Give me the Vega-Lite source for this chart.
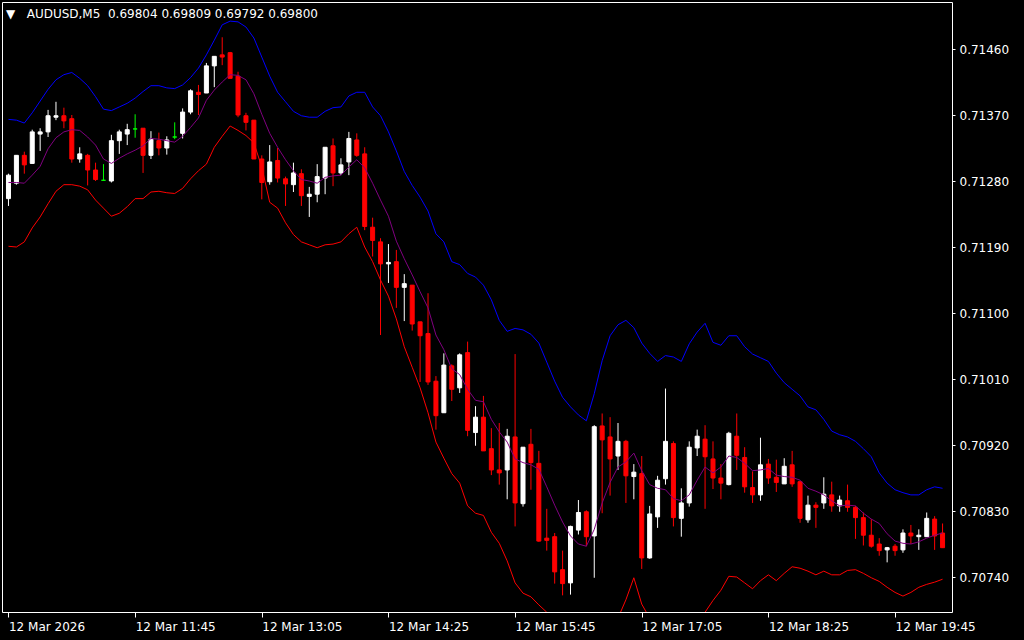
{
"$schema": "https://vega.github.io/schema/vega-lite/v6.json",
"width": 950,
"height": 610,
"autosize": {"type": "none"},
"padding": {"left": 2, "top": 2, "right": 72, "bottom": 28},
"background": "#000000",
"view": {"stroke": "#ffffff", "strokeWidth": 1, "fill": "#000000"},
"title": {"text": "▼\u00a0\u00a0\u00a0AUDUSD,M5\u00a0\u00a00.69804 0.69809 0.69792 0.69800", "anchor": "start", "frame": "group", "orient": "top", "offset": -19, "baseline": "top", "dx": 4, "color": "#ffffff", "font": "DejaVu Sans", "fontSize": 12, "fontWeight": "normal"},
"config": {"axis": {"labelColor": "#ffffff", "tickColor": "#ffffff", "labelFont": "DejaVu Sans", "labelFontSize": 12, "domain": false, "grid": false, "title": null}},
"data": {"values": [
{"t":"2026-03-12T10:25","o":0.71256,"h":0.71290,"l":0.71246,"c":0.71288,"u":0.71364,"m":0.71278,"d":0.71191},
{"t":"2026-03-12T10:30","o":0.71277,"h":0.71315,"l":0.71275,"c":0.71315,"u":0.71363,"m":0.71278,"d":0.71190},
{"t":"2026-03-12T10:35","o":0.71315,"h":0.71320,"l":0.71290,"c":0.71302,"u":0.71359,"m":0.71277,"d":0.71197},
{"t":"2026-03-12T10:40","o":0.71304,"h":0.71350,"l":0.71304,"c":0.71347,"u":0.71373,"m":0.71288,"d":0.71216},
{"t":"2026-03-12T10:45","o":0.71344,"h":0.71352,"l":0.71321,"c":0.71347,"u":0.71389,"m":0.71300,"d":0.71231},
{"t":"2026-03-12T10:50","o":0.71347,"h":0.71377,"l":0.71340,"c":0.71369,"u":0.71405,"m":0.71324,"d":0.71249},
{"t":"2026-03-12T10:55","o":0.71367,"h":0.71388,"l":0.71363,"c":0.71369,"u":0.71418,"m":0.71339,"d":0.71266},
{"t":"2026-03-12T11:00","o":0.71369,"h":0.71380,"l":0.71352,"c":0.71362,"u":0.71425,"m":0.71347,"d":0.71275},
{"t":"2026-03-12T11:05","o":0.71365,"h":0.71370,"l":0.71305,"c":0.71310,"u":0.71428,"m":0.71350,"d":0.71275},
{"t":"2026-03-12T11:10","o":0.71310,"h":0.71326,"l":0.71305,"c":0.71317,"u":0.71420,"m":0.71349,"d":0.71273},
{"t":"2026-03-12T11:15","o":0.71315,"h":0.71317,"l":0.71274,"c":0.71295,"u":0.71410,"m":0.71340,"d":0.71268},
{"t":"2026-03-12T11:20","o":0.71295,"h":0.71305,"l":0.71280,"c":0.71282,"u":0.71395,"m":0.71329,"d":0.71254},
{"t":"2026-03-12T11:25","o":0.71281,"h":0.71303,"l":0.71281,"c":0.71281,"u":0.71378,"m":0.71310,"d":0.71243},
{"t":"2026-03-12T11:30","o":0.71280,"h":0.71343,"l":0.71278,"c":0.71335,"u":0.71376,"m":0.71304,"d":0.71232},
{"t":"2026-03-12T11:35","o":0.71335,"h":0.71350,"l":0.71317,"c":0.71347,"u":0.71381,"m":0.71311,"d":0.71236},
{"t":"2026-03-12T11:40","o":0.71344,"h":0.71358,"l":0.71329,"c":0.71350,"u":0.71386,"m":0.71317,"d":0.71245},
{"t":"2026-03-12T11:45","o":0.71351,"h":0.71371,"l":0.71339,"c":0.71351,"u":0.71393,"m":0.71322,"d":0.71256},
{"t":"2026-03-12T11:50","o":0.71352,"h":0.71352,"l":0.71291,"c":0.71315,"u":0.71402,"m":0.71328,"d":0.71256},
{"t":"2026-03-12T11:55","o":0.71315,"h":0.71348,"l":0.71310,"c":0.71337,"u":0.71410,"m":0.71338,"d":0.71265},
{"t":"2026-03-12T12:00","o":0.71335,"h":0.71346,"l":0.71315,"c":0.71325,"u":0.71410,"m":0.71337,"d":0.71266},
{"t":"2026-03-12T12:05","o":0.71325,"h":0.71341,"l":0.71316,"c":0.71336,"u":0.71407,"m":0.71335,"d":0.71264},
{"t":"2026-03-12T12:10","o":0.71340,"h":0.71360,"l":0.71337,"c":0.71340,"u":0.71406,"m":0.71333,"d":0.71263},
{"t":"2026-03-12T12:15","o":0.71345,"h":0.71379,"l":0.71338,"c":0.71374,"u":0.71411,"m":0.71341,"d":0.71270},
{"t":"2026-03-12T12:20","o":0.71374,"h":0.71405,"l":0.71371,"c":0.71403,"u":0.71421,"m":0.71353,"d":0.71283},
{"t":"2026-03-12T12:25","o":0.71401,"h":0.71411,"l":0.71370,"c":0.71398,"u":0.71434,"m":0.71366,"d":0.71294},
{"t":"2026-03-12T12:30","o":0.71400,"h":0.71441,"l":0.71400,"c":0.71437,"u":0.71452,"m":0.71390,"d":0.71303},
{"t":"2026-03-12T12:35","o":0.71437,"h":0.71450,"l":0.71408,"c":0.71450,"u":0.71472,"m":0.71404,"d":0.71326},
{"t":"2026-03-12T12:40","o":0.71452,"h":0.71476,"l":0.71438,"c":0.71449,"u":0.71493,"m":0.71415,"d":0.71341},
{"t":"2026-03-12T12:45","o":0.71455,"h":0.71456,"l":0.71420,"c":0.71420,"u":0.71498,"m":0.71425,"d":0.71355},
{"t":"2026-03-12T12:50","o":0.71423,"h":0.71429,"l":0.71367,"c":0.71370,"u":0.71497,"m":0.71424,"d":0.71349},
{"t":"2026-03-12T12:55","o":0.71369,"h":0.71373,"l":0.71349,"c":0.71360,"u":0.71490,"m":0.71418,"d":0.71342},
{"t":"2026-03-12T13:00","o":0.71363,"h":0.71363,"l":0.71310,"c":0.71310,"u":0.71475,"m":0.71399,"d":0.71332},
{"t":"2026-03-12T13:05","o":0.71310,"h":0.71315,"l":0.71255,"c":0.71278,"u":0.71449,"m":0.71371,"d":0.71299},
{"t":"2026-03-12T13:10","o":0.71279,"h":0.71329,"l":0.71275,"c":0.71306,"u":0.71423,"m":0.71345,"d":0.71251},
{"t":"2026-03-12T13:15","o":0.71308,"h":0.71325,"l":0.71278,"c":0.71284,"u":0.71401,"m":0.71326,"d":0.71243},
{"t":"2026-03-12T13:20","o":0.71283,"h":0.71286,"l":0.71246,"c":0.71276,"u":0.71388,"m":0.71309,"d":0.71223},
{"t":"2026-03-12T13:25","o":0.71275,"h":0.71305,"l":0.71265,"c":0.71291,"u":0.71375,"m":0.71294,"d":0.71207},
{"t":"2026-03-12T13:30","o":0.71290,"h":0.71296,"l":0.71246,"c":0.71260,"u":0.71369,"m":0.71282,"d":0.71197},
{"t":"2026-03-12T13:35","o":0.71259,"h":0.71272,"l":0.71231,"c":0.71262,"u":0.71367,"m":0.71280,"d":0.71193},
{"t":"2026-03-12T13:40","o":0.71262,"h":0.71303,"l":0.71251,"c":0.71286,"u":0.71367,"m":0.71277,"d":0.71189},
{"t":"2026-03-12T13:45","o":0.71284,"h":0.71326,"l":0.71262,"c":0.71326,"u":0.71375,"m":0.71285,"d":0.71193},
{"t":"2026-03-12T13:50","o":0.71328,"h":0.71338,"l":0.71273,"c":0.71291,"u":0.71380,"m":0.71287,"d":0.71194},
{"t":"2026-03-12T13:55","o":0.71291,"h":0.71311,"l":0.71288,"c":0.71302,"u":0.71381,"m":0.71288,"d":0.71197},
{"t":"2026-03-12T14:00","o":0.71306,"h":0.71347,"l":0.71288,"c":0.71338,"u":0.71396,"m":0.71299,"d":0.71208},
{"t":"2026-03-12T14:05","o":0.71336,"h":0.71345,"l":0.71313,"c":0.71315,"u":0.71401,"m":0.71309,"d":0.71217},
{"t":"2026-03-12T14:10","o":0.71317,"h":0.71326,"l":0.71213,"c":0.71218,"u":0.71401,"m":0.71298,"d":0.71190},
{"t":"2026-03-12T14:15","o":0.71217,"h":0.71230,"l":0.71177,"c":0.71199,"u":0.71381,"m":0.71277,"d":0.71170},
{"t":"2026-03-12T14:20","o":0.71197,"h":0.71202,"l":0.71070,"c":0.71167,"u":0.71369,"m":0.71254,"d":0.71145},
{"t":"2026-03-12T14:25","o":0.71167,"h":0.71194,"l":0.71141,"c":0.71169,"u":0.71347,"m":0.71232,"d":0.71123},
{"t":"2026-03-12T14:30","o":0.71170,"h":0.71186,"l":0.71107,"c":0.71135,"u":0.71321,"m":0.71198,"d":0.71092},
{"t":"2026-03-12T14:35","o":0.71135,"h":0.71153,"l":0.71089,"c":0.71140,"u":0.71293,"m":0.71174,"d":0.71054},
{"t":"2026-03-12T14:40","o":0.71138,"h":0.71138,"l":0.71076,"c":0.71085,"u":0.71274,"m":0.71152,"d":0.71026},
{"t":"2026-03-12T14:45","o":0.71088,"h":0.71088,"l":0.71006,"c":0.71069,"u":0.71258,"m":0.71129,"d":0.70998},
{"t":"2026-03-12T14:50","o":0.71072,"h":0.71127,"l":0.71002,"c":0.71006,"u":0.71239,"m":0.71107,"d":0.70964},
{"t":"2026-03-12T14:55","o":0.71007,"h":0.71014,"l":0.70941,"c":0.70960,"u":0.71208,"m":0.71070,"d":0.70924},
{"t":"2026-03-12T15:00","o":0.70964,"h":0.71045,"l":0.70964,"c":0.71029,"u":0.71197,"m":0.71050,"d":0.70902},
{"t":"2026-03-12T15:05","o":0.71028,"h":0.71030,"l":0.70980,"c":0.70996,"u":0.71170,"m":0.71024,"d":0.70881},
{"t":"2026-03-12T15:10","o":0.70998,"h":0.71045,"l":0.70991,"c":0.71043,"u":0.71166,"m":0.71016,"d":0.70868},
{"t":"2026-03-12T15:15","o":0.71046,"h":0.71061,"l":0.70932,"c":0.70940,"u":0.71154,"m":0.70996,"d":0.70837},
{"t":"2026-03-12T15:20","o":0.70937,"h":0.70973,"l":0.70919,"c":0.70958,"u":0.71149,"m":0.70981,"d":0.70827},
{"t":"2026-03-12T15:25","o":0.70958,"h":0.70987,"l":0.70912,"c":0.70912,"u":0.71138,"m":0.70979,"d":0.70824},
{"t":"2026-03-12T15:30","o":0.70915,"h":0.70943,"l":0.70879,"c":0.70886,"u":0.71118,"m":0.70955,"d":0.70801},
{"t":"2026-03-12T15:35","o":0.70886,"h":0.70950,"l":0.70866,"c":0.70882,"u":0.71090,"m":0.70938,"d":0.70786},
{"t":"2026-03-12T15:40","o":0.70886,"h":0.70942,"l":0.70846,"c":0.70932,"u":0.71075,"m":0.70924,"d":0.70762},
{"t":"2026-03-12T15:45","o":0.70931,"h":0.71044,"l":0.70809,"c":0.70841,"u":0.71079,"m":0.70901,"d":0.70732},
{"t":"2026-03-12T15:50","o":0.70840,"h":0.70917,"l":0.70836,"c":0.70917,"u":0.71077,"m":0.70896,"d":0.70718},
{"t":"2026-03-12T15:55","o":0.70921,"h":0.70942,"l":0.70859,"c":0.70896,"u":0.71071,"m":0.70893,"d":0.70713},
{"t":"2026-03-12T16:00","o":0.70895,"h":0.70912,"l":0.70788,"c":0.70789,"u":0.71059,"m":0.70887,"d":0.70702},
{"t":"2026-03-12T16:05","o":0.70793,"h":0.70833,"l":0.70776,"c":0.70790,"u":0.71033,"m":0.70863,"d":0.70692},
{"t":"2026-03-12T16:10","o":0.70795,"h":0.70800,"l":0.70731,"c":0.70747,"u":0.71007,"m":0.70838,"d":0.70669},
{"t":"2026-03-12T16:15","o":0.70750,"h":0.70776,"l":0.70715,"c":0.70731,"u":0.70985,"m":0.70815,"d":0.70645},
{"t":"2026-03-12T16:20","o":0.70732,"h":0.70810,"l":0.70716,"c":0.70809,"u":0.70972,"m":0.70796,"d":0.70620},
{"t":"2026-03-12T16:25","o":0.70804,"h":0.70845,"l":0.70798,"c":0.70828,"u":0.70961,"m":0.70785,"d":0.70609},
{"t":"2026-03-12T16:30","o":0.70829,"h":0.70831,"l":0.70782,"c":0.70795,"u":0.70953,"m":0.70782,"d":0.70612},
{"t":"2026-03-12T16:35","o":0.70796,"h":0.70947,"l":0.70739,"c":0.70945,"u":0.70990,"m":0.70805,"d":0.70621},
{"t":"2026-03-12T16:40","o":0.70946,"h":0.70963,"l":0.70827,"c":0.70927,"u":0.71035,"m":0.70841,"d":0.70647},
{"t":"2026-03-12T16:45","o":0.70931,"h":0.70958,"l":0.70851,"c":0.70901,"u":0.71069,"m":0.70869,"d":0.70669},
{"t":"2026-03-12T16:50","o":0.70905,"h":0.70950,"l":0.70886,"c":0.70925,"u":0.71084,"m":0.70890,"d":0.70684},
{"t":"2026-03-12T16:55","o":0.70925,"h":0.70927,"l":0.70841,"c":0.70878,"u":0.71090,"m":0.70897,"d":0.70709},
{"t":"2026-03-12T17:00","o":0.70877,"h":0.70894,"l":0.70846,"c":0.70883,"u":0.71080,"m":0.70909,"d":0.70739},
{"t":"2026-03-12T17:05","o":0.70881,"h":0.70905,"l":0.70751,"c":0.70766,"u":0.71059,"m":0.70885,"d":0.70703},
{"t":"2026-03-12T17:10","o":0.70766,"h":0.70837,"l":0.70765,"c":0.70826,"u":0.71045,"m":0.70866,"d":0.70684},
{"t":"2026-03-12T17:15","o":0.70822,"h":0.70878,"l":0.70807,"c":0.70872,"u":0.71034,"m":0.70861,"d":0.70688},
{"t":"2026-03-12T17:20","o":0.70874,"h":0.70997,"l":0.70866,"c":0.70925,"u":0.71042,"m":0.70859,"d":0.70675},
{"t":"2026-03-12T17:25","o":0.70922,"h":0.70925,"l":0.70809,"c":0.70821,"u":0.71040,"m":0.70847,"d":0.70654},
{"t":"2026-03-12T17:30","o":0.70820,"h":0.70861,"l":0.70795,"c":0.70841,"u":0.71034,"m":0.70844,"d":0.70653},
{"t":"2026-03-12T17:35","o":0.70841,"h":0.70925,"l":0.70836,"c":0.70917,"u":0.71058,"m":0.70852,"d":0.70646},
{"t":"2026-03-12T17:40","o":0.70916,"h":0.70941,"l":0.70905,"c":0.70932,"u":0.71074,"m":0.70872,"d":0.70670},
{"t":"2026-03-12T17:45","o":0.70928,"h":0.70947,"l":0.70833,"c":0.70904,"u":0.71086,"m":0.70890,"d":0.70692},
{"t":"2026-03-12T17:50","o":0.70901,"h":0.70925,"l":0.70860,"c":0.70875,"u":0.71060,"m":0.70882,"d":0.70708},
{"t":"2026-03-12T17:55","o":0.70875,"h":0.70894,"l":0.70846,"c":0.70868,"u":0.71056,"m":0.70890,"d":0.70722},
{"t":"2026-03-12T18:00","o":0.70866,"h":0.70938,"l":0.70865,"c":0.70936,"u":0.71069,"m":0.70905,"d":0.70741},
{"t":"2026-03-12T18:05","o":0.70932,"h":0.70963,"l":0.70886,"c":0.70906,"u":0.71069,"m":0.70903,"d":0.70740},
{"t":"2026-03-12T18:10","o":0.70903,"h":0.70917,"l":0.70855,"c":0.70863,"u":0.71054,"m":0.70895,"d":0.70732},
{"t":"2026-03-12T18:15","o":0.70862,"h":0.70884,"l":0.70841,"c":0.70852,"u":0.71044,"m":0.70885,"d":0.70724},
{"t":"2026-03-12T18:20","o":0.70852,"h":0.70930,"l":0.70844,"c":0.70893,"u":0.71039,"m":0.70886,"d":0.70735},
{"t":"2026-03-12T18:25","o":0.70894,"h":0.70901,"l":0.70867,"c":0.70875,"u":0.71034,"m":0.70888,"d":0.70743},
{"t":"2026-03-12T18:30","o":0.70876,"h":0.70900,"l":0.70856,"c":0.70869,"u":0.71018,"m":0.70879,"d":0.70735},
{"t":"2026-03-12T18:35","o":0.70867,"h":0.70902,"l":0.70867,"c":0.70891,"u":0.71005,"m":0.70877,"d":0.70745},
{"t":"2026-03-12T18:40","o":0.70893,"h":0.70912,"l":0.70863,"c":0.70867,"u":0.70996,"m":0.70876,"d":0.70754},
{"t":"2026-03-12T18:45","o":0.70870,"h":0.70870,"l":0.70814,"c":0.70820,"u":0.70987,"m":0.70872,"d":0.70752},
{"t":"2026-03-12T18:50","o":0.70818,"h":0.70851,"l":0.70814,"c":0.70838,"u":0.70972,"m":0.70861,"d":0.70748},
{"t":"2026-03-12T18:55","o":0.70838,"h":0.70842,"l":0.70807,"c":0.70835,"u":0.70968,"m":0.70857,"d":0.70743},
{"t":"2026-03-12T19:00","o":0.70841,"h":0.70876,"l":0.70833,"c":0.70853,"u":0.70955,"m":0.70852,"d":0.70748},
{"t":"2026-03-12T19:05","o":0.70852,"h":0.70870,"l":0.70829,"c":0.70837,"u":0.70939,"m":0.70844,"d":0.70743},
{"t":"2026-03-12T19:10","o":0.70837,"h":0.70851,"l":0.70829,"c":0.70845,"u":0.70934,"m":0.70837,"d":0.70743},
{"t":"2026-03-12T19:15","o":0.70844,"h":0.70866,"l":0.70829,"c":0.70835,"u":0.70931,"m":0.70838,"d":0.70749},
{"t":"2026-03-12T19:20","o":0.70835,"h":0.70837,"l":0.70792,"c":0.70821,"u":0.70925,"m":0.70837,"d":0.70750},
{"t":"2026-03-12T19:25","o":0.70821,"h":0.70828,"l":0.70783,"c":0.70797,"u":0.70915,"m":0.70827,"d":0.70745},
{"t":"2026-03-12T19:30","o":0.70797,"h":0.70819,"l":0.70780,"c":0.70782,"u":0.70904,"m":0.70819,"d":0.70739},
{"t":"2026-03-12T19:35","o":0.70785,"h":0.70793,"l":0.70769,"c":0.70776,"u":0.70882,"m":0.70813,"d":0.70734},
{"t":"2026-03-12T19:40","o":0.70777,"h":0.70781,"l":0.70760,"c":0.70780,"u":0.70868,"m":0.70799,"d":0.70726},
{"t":"2026-03-12T19:45","o":0.70782,"h":0.70785,"l":0.70769,"c":0.70776,"u":0.70859,"m":0.70789,"d":0.70719},
{"t":"2026-03-12T19:50","o":0.70777,"h":0.70805,"l":0.70773,"c":0.70800,"u":0.70855,"m":0.70786,"d":0.70714},
{"t":"2026-03-12T19:55","o":0.70800,"h":0.70811,"l":0.70785,"c":0.70796,"u":0.70852,"m":0.70785,"d":0.70719},
{"t":"2026-03-12T20:00","o":0.70795,"h":0.70805,"l":0.70777,"c":0.70797,"u":0.70852,"m":0.70788,"d":0.70726},
{"t":"2026-03-12T20:05","o":0.70795,"h":0.70828,"l":0.70795,"c":0.70820,"u":0.70859,"m":0.70793,"d":0.70730},
{"t":"2026-03-12T20:10","o":0.70819,"h":0.70823,"l":0.70777,"c":0.70796,"u":0.70863,"m":0.70797,"d":0.70733},
{"t":"2026-03-12T20:15","o":0.70800,"h":0.70813,"l":0.70780,"c":0.70780,"u":0.70861,"m":0.70800,"d":0.70737}
]},
"encoding": {
  "x": {"field": "t", "type": "temporal",
    "scale": {"domain": [{"year":2026,"month":3,"date":12,"hours":10,"minutes":24,"seconds":3,"milliseconds":750},{"year":2026,"month":3,"date":12,"hours":20,"minutes":17,"seconds":48,"milliseconds":750}], "nice": false},
    "axis": {"values": [
      {"year":2026,"month":3,"date":12,"hours":10,"minutes":25},
      {"year":2026,"month":3,"date":12,"hours":11,"minutes":45},
      {"year":2026,"month":3,"date":12,"hours":13,"minutes":5},
      {"year":2026,"month":3,"date":12,"hours":14,"minutes":25},
      {"year":2026,"month":3,"date":12,"hours":15,"minutes":45},
      {"year":2026,"month":3,"date":12,"hours":17,"minutes":5},
      {"year":2026,"month":3,"date":12,"hours":18,"minutes":25},
      {"year":2026,"month":3,"date":12,"hours":19,"minutes":45}],
      "labelExpr": "datum.index == 0 ? timeFormat(datum.value, '%d %b %Y') : timeFormat(datum.value, '%d %b %H:%M')",
      "labelAlign": "left", "labelBaseline": "top", "labelPadding": 4, "tickSize": 5,
      "labelFlush": false, "labelOverlap": false, "labelBound": false, "labelLimit": 0}
  }
},
"layer": [
  {"mark": {"type": "rule", "strokeWidth": 1, "clip": true},
   "encoding": {
     "y": {"field": "l", "type": "quantitative", "scale": {"domain": [0.706923, 0.715241], "nice": false, "zero": false},
           "axis": {"orient": "right", "values": [0.7074, 0.7083, 0.7092, 0.7101, 0.711, 0.7119, 0.7128, 0.7137, 0.7146], "format": ".5f", "tickSize": 3, "labelPadding": 4, "labelAlign": "left", "labelBaseline": "middle", "labelLimit": 0, "title": null}},
     "y2": {"field": "h"},
     "color": {"condition": [{"test": "datum.c > datum.o", "value": "#ffffff"}, {"test": "datum.c < datum.o", "value": "#ff0000"}], "value": "#00ff00"}
   }},
  {"mark": {"type": "bar", "width": 4, "strokeWidth": 1, "clip": true},
   "encoding": {
     "y": {"field": "o", "type": "quantitative", "scale": {"domain": [0.706923, 0.715241], "nice": false, "zero": false},
           "axis": {"orient": "right", "values": [0.7074, 0.7083, 0.7092, 0.7101, 0.711, 0.7119, 0.7128, 0.7137, 0.7146], "format": ".5f", "tickSize": 3, "labelPadding": 4, "labelAlign": "left", "labelBaseline": "middle", "labelLimit": 0, "title": null}},
     "y2": {"field": "c"},
     "fill": {"condition": [{"test": "datum.c > datum.o", "value": "#ffffff"}, {"test": "datum.c < datum.o", "value": "#ff0000"}], "value": "#00ff00"},
     "stroke": {"condition": [{"test": "datum.c > datum.o", "value": "#ffffff"}, {"test": "datum.c < datum.o", "value": "#ff0000"}], "value": "#00ff00"}
   }},
  {"mark": {"type": "line", "color": "#0000ff", "strokeWidth": 1, "clip": true},
   "encoding": {"y": {"field": "u", "type": "quantitative", "scale": {"domain": [0.706923, 0.715241], "nice": false, "zero": false},
           "axis": {"orient": "right", "values": [0.7074, 0.7083, 0.7092, 0.7101, 0.711, 0.7119, 0.7128, 0.7137, 0.7146], "format": ".5f", "tickSize": 3, "labelPadding": 4, "labelAlign": "left", "labelBaseline": "middle", "labelLimit": 0, "title": null}}}},
  {"mark": {"type": "line", "color": "#800080", "strokeWidth": 1, "clip": true},
   "encoding": {"y": {"field": "m", "type": "quantitative", "scale": {"domain": [0.706923, 0.715241], "nice": false, "zero": false},
           "axis": {"orient": "right", "values": [0.7074, 0.7083, 0.7092, 0.7101, 0.711, 0.7119, 0.7128, 0.7137, 0.7146], "format": ".5f", "tickSize": 3, "labelPadding": 4, "labelAlign": "left", "labelBaseline": "middle", "labelLimit": 0, "title": null}}}},
  {"mark": {"type": "line", "color": "#ff0000", "strokeWidth": 1, "clip": true},
   "encoding": {"y": {"field": "d", "type": "quantitative", "scale": {"domain": [0.706923, 0.715241], "nice": false, "zero": false},
           "axis": {"orient": "right", "values": [0.7074, 0.7083, 0.7092, 0.7101, 0.711, 0.7119, 0.7128, 0.7137, 0.7146], "format": ".5f", "tickSize": 3, "labelPadding": 4, "labelAlign": "left", "labelBaseline": "middle", "labelLimit": 0, "title": null}}}}
]
}
